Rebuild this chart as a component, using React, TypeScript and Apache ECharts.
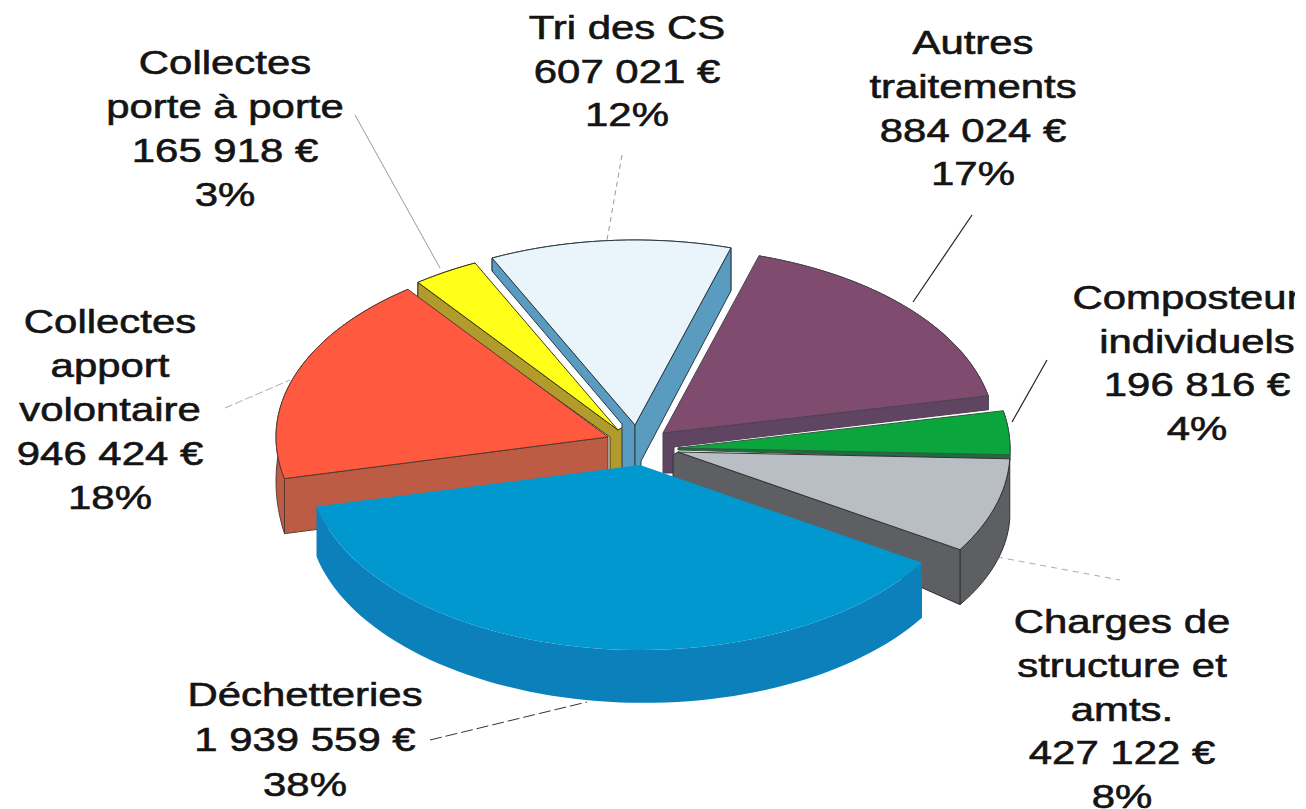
import React, { useEffect, useRef } from "react";
import * as echarts from "echarts";

// ---- data, in pie order (clockwise) ----
const categories = [
  "Tri des CS",
  "Autres traitements",
  "Composteurs individuels",
  "Charges de structure et amts.",
  "Déchetteries",
  "Collectes apport volontaire",
  "Collectes porte à porte",
];
const amounts = [607021, 884024, 196816, 427122, 1939559, 946424, 165918];
const amountLabels = ["607 021 €", "884 024 €", "196 816 €", "427 122 €", "1 939 559 €", "946 424 €", "165 918 €"];
const percentLabels = ["12%", "17%", "4%", "8%", "38%", "18%", "3%"];
const nameLines = [
  ["Tri des CS"],
  ["Autres", "traitements"],
  ["Composteurs", "individuels"],
  ["Charges de", "structure et", "amts."],
  ["Déchetteries"],
  ["Collectes", "apport", "volontaire"],
  ["Collectes", "porte à porte"],
];

// ---- styling and projection ----
const topColors = ["#e9f4fb", "#7f4b6e", "#0aa53c", "#b9bdc4", "#0098cf", "#ff5a40", "#ffff1a"];
const wallColors = ["#5a9cc0", "#5f4562", "#1f6b42", "#5e5f62", "#0b80bb", "#bd5c45", "#b19b2c"];
const strokeColors = ["#2b3a44", "#4a4450", "#2f5a3d", "#333", "none", "#5a3a30", "#3c3a10"];
const drawOrder = [6, 0, 5, 1, 2, 3, 4];
const START_ANGLE = -25.5;
const RX = 332;
const RY = 185;
const apexX = [635, 663, 678, 678, 640, 608, 618];
const apexY = [425, 433, 448, 452, 465, 437, 430];
// depth of the side wall at the slice's first and last angle
const depthStart = [13, 0, 3, 60, 55, 55, 17];
const depthEnd = [43, 14, 5, 55, 50, 0, 0];
// extra vertices of the radial walls, relative to the slice's apex
const startWallKnees: (number[][] | null)[] = [
  [[-13, -1], [-13, 45], [0, 45]],
  null,
  null,
  null,
  null,
  [[0, 55]],
  [[-8, 7], [-8, 42], [5, 42], [5, -3]],
];
const endWallKnees: (number[][] | null)[] = [
  [[6, 36], [6, 45], [0, 45]],
  [[11, 14], [11, 40], [0, 40]],
  [[0, 2]],
  [[-5, 25], [-5, 3]],
  null,
  null,
  null,
];
const labelX = [627, 973, 1197, 1122, 305, 110, 225];
const labelTopY = [28, 43, 298, 622, 695, 322, 63];
const labelLineStep = [43.5, 43.7, 43.5, 43.7, 45, 43.8, 44];
const leaderLines = [
  { pts: [[622, 155], [607, 240]], color: "#999", dash: [5, 4], w: 1 },
  { pts: [[972, 215], [913, 302]], color: "#222", dash: null, w: 1.2 },
  { pts: [[1047, 360], [1012, 422]], color: "#222", dash: null, w: 1.2 },
  { pts: [[997, 557], [1120, 580]], color: "#aaa", dash: [6, 5], w: 1 },
  { pts: [[430, 740], [587, 702]], color: "#333", dash: [12, 4], w: 1 },
  { pts: [[225, 408], [290, 380]], color: "#aaa", dash: [8, 3], w: 1 },
  { pts: [[355, 115], [440, 268]], color: "#999", dash: null, w: 1 },
];

const FONT = "'Liberation Sans', Arial, sans-serif";
const total = amounts.reduce((a, b) => a + b, 0);

function sliceAngles(i: number) {
  let before = 0;
  for (let k = 0; k < i; k++) before += amounts[k];
  return [
    START_ANGLE + (before / total) * 360,
    START_ANGLE + ((before + amounts[i]) / total) * 360,
  ];
}

function project(i: number, deg: number) {
  const t = (deg * Math.PI) / 180;
  return [apexX[i] + RX * Math.sin(t), apexY[i] - RY * Math.cos(t)];
}

function renderSlice(params: any, api: any) {
  const i = api.value(0);
  const [a0, a1] = sliceAngles(i);
  const A = [apexX[i], apexY[i]];
  const steps = Math.max(6, Math.round((a1 - a0) / 2));
  const top: number[][] = [];
  const bottom: number[][] = [];
  for (let s = 0; s <= steps; s++) {
    const f = s / steps;
    const p = project(i, a0 + (a1 - a0) * f);
    top.push(p);
    bottom.push([p[0], p[1] + depthStart[i] + (depthEnd[i] - depthStart[i]) * f]);
  }
  const stroke = strokeColors[i];
  const lineWidth = stroke === "none" ? 0 : 1;
  const wallStyle = { fill: wallColors[i], stroke, lineWidth };
  const children: any[] = [];
  children.push({
    type: "polygon",
    shape: { points: top.concat(bottom.slice().reverse()) },
    style: wallStyle,
  });
  const startKnee = startWallKnees[i];
  if (startKnee) {
    const P = top[0];
    children.push({
      type: "polygon",
      shape: {
        points: [P, [P[0], P[1] + depthStart[i]], ...startKnee.map((k) => [A[0] + k[0], A[1] + k[1]]), A],
      },
      style: wallStyle,
    });
  }
  const endKnee = endWallKnees[i];
  if (endKnee) {
    const P = top[top.length - 1];
    children.push({
      type: "polygon",
      shape: {
        points: [P, [P[0], P[1] + depthEnd[i]], ...endKnee.map((k) => [A[0] + k[0], A[1] + k[1]]), A],
      },
      style: wallStyle,
    });
  }
  children.push({
    type: "polygon",
    shape: { points: [A, ...top] },
    style: { fill: topColors[i], stroke, lineWidth },
  });
  return { type: "group", children };
}

export default function App() {
  const ref = useRef<HTMLDivElement>(null);
  useEffect(() => {
    document.body.style.margin = "0";
    document.body.style.background = "#fff";
    const chart = echarts.init(ref.current!, undefined, { renderer: "svg" });
    const labelGraphics = categories.map((name, i) => ({
      type: "text",
      name,
      x: labelX[i],
      // first line's centre is given, the box starts half a line above
      y: labelTopY[i] - labelLineStep[i] / 2,
      scaleX: 1.27,
      silent: true,
      style: {
        text: [...nameLines[i], amountLabels[i], percentLabels[i]].join("\n"),
        fontFamily: FONT,
        fontSize: 33,
        lineHeight: labelLineStep[i],
        fill: "#141414",
        stroke: "#141414",
        lineWidth: 0.6,
        textAlign: "center",
        verticalAlign: "top",
      },
    }));
    const lineGraphics = leaderLines.map((l) => ({
      type: "polyline",
      silent: true,
      shape: { points: l.pts },
      style: { stroke: l.color, lineWidth: l.w, lineDash: l.dash || undefined, fill: "none" },
    }));
    chart.setOption({
      animation: false,
      backgroundColor: "#fff",
      series: [
        {
          type: "custom",
          coordinateSystem: "none",
          silent: true,
          renderItem: renderSlice,
          data: drawOrder.map((i) => ({ name: categories[i], value: [i, amounts[i]] })),
        },
      ],
      graphic: { elements: [...lineGraphics, ...labelGraphics] },
    });
    return () => chart.dispose();
  }, []);
  return <div ref={ref} style={{ width: 1295, height: 809, overflow: "hidden" }} />;
}
